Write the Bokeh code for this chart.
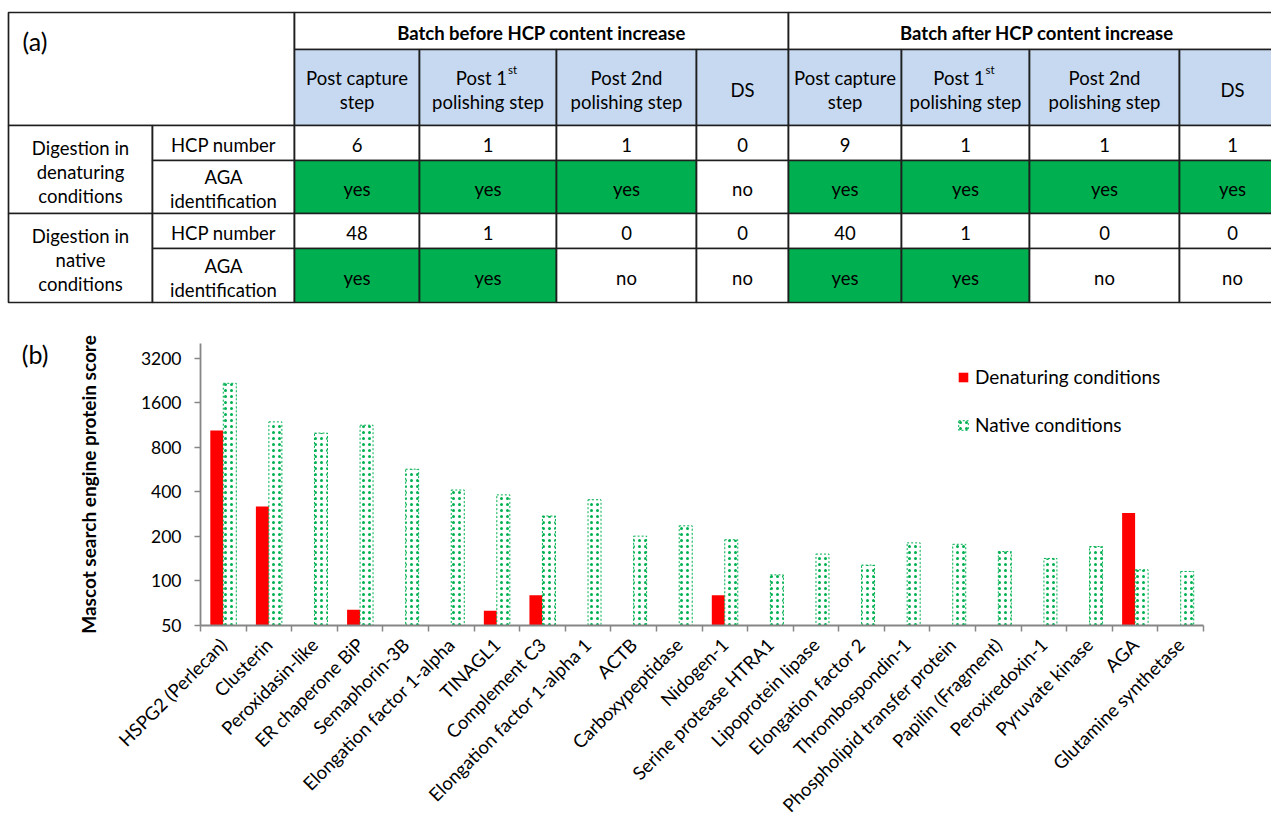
import math
import re

from bokeh.plotting import figure
from bokeh.models import (Range1d, FixedTicker, CustomJSTickFormatter, Legend,
                          LegendItem, LogAxis, ColumnDataSource)
from bokeh.core.properties import value
from bokeh.embed import file_html
from bokeh.resources import INLINE

# ---------------- (a) summary table ----------------
batch_titles = ["Batch before HCP content increase", "Batch after HCP content increase"]
step_titles = ["Post capture\nstep", "Post 1st\npolishing step", "Post 2nd\npolishing step", "DS"]
digestion_labels = ["Digestion in\ndenaturing\nconditions", "Digestion in\nnative\nconditions"]
row_labels = ["HCP number", "AGA\nidentification"]
hcp_denaturing = [6, 1, 1, 0, 9, 1, 1, 1]
aga_denaturing = ["yes", "yes", "yes", "no", "yes", "yes", "yes", "yes"]
hcp_native = [48, 1, 0, 0, 40, 1, 0, 0]
aga_native = ["yes", "yes", "no", "no", "yes", "yes", "no", "no"]

# ---------------- (b) Mascot scores ----------------
proteins = ["HSPG2 (Perlecan)", "Clusterin", "Peroxidasin-like", "ER chaperone BiP",
            "Semaphorin-3B", "Elongation factor 1-alpha", "TINAGL1", "Complement C3",
            "Elongation factor 1-alpha 1", "ACTB", "Carboxypeptidase", "Nidogen-1",
            "Serine protease HTRA1", "Lipoprotein lipase", "Elongation factor 2",
            "Thrombospondin-1", "Phospholipid transfer protein", "Papilin (Fragment)",
            "Peroxiredoxin-1", "Pyruvate kinase", "AGA", "Glutamine synthetase"]
denaturing_scores = [1040, 319, None, 64, None, None, 63, 80, None, None, None, 80,
                     None, None, None, None, None, None, None, None, 288, None]
native_scores = [2170, 1190, 1000, 1130, 570, 412, 382, 275, 354, 201, 236, 190,
                 110, 152, 128, 181, 177, 158, 142, 171, 119, 116]
y_ticks = [50, 100, 200, 400, 800, 1600, 3200]
series_names = ["Denaturing conditions", "Native conditions"]

# ---------------- styling ----------------
FONT = "Lato"
TEXT = "#000000"
GREEN = "#00B050"
RED = "#FF0000"
BLUE = "#C6D9F1"
GRID = "#1e1e1e"
AXIS = "#868686"

W, H_TABLE, H_CHART = 1271, 315, 512

# table geometry (page pixels)
COL = [8, 152, 294, 419, 556, 696, 788, 901, 1029, 1179, 1285]
ROW = [12, 49, 125, 160, 213, 248, 302]
LINE = 24
BASE = 2
CELL_FONT = "18.5px"

tab = figure(width=W, height=H_TABLE, x_range=Range1d(0, W), y_range=Range1d(H_TABLE, 0),
             output_backend="svg", toolbar_location=None, min_border=0,
             min_border_left=0, min_border_right=0, min_border_top=0, min_border_bottom=0,
             x_axis_location=None, y_axis_location=None, outline_line_color=None)
tab.xgrid.visible = False
tab.ygrid.visible = False

cells = dict(left=[], right=[], top=[], bottom=[], color=[])
normal = dict(x=[], y=[], text=[])
right_al = dict(x=[], y=[], text=[])
bold = dict(x=[], y=[], text=[])
sup = dict(x=[], y=[], text=[])


def cell(c0, c1, r0, r1, color="white"):
    cells["left"].append(COL[c0]); cells["right"].append(COL[c1])
    cells["top"].append(ROW[r0]); cells["bottom"].append(ROW[r1])
    cells["color"].append(color)


def add(target, x, y, t):
    target["x"].append(x); target["y"].append(y); target["text"].append(t)


def put(target, c0, c1, r0, r1, txt):
    cx = (COL[c0] + COL[c1]) / 2
    cy = (ROW[r0] + ROW[r1]) / 2
    lines = txt.split("\n")
    n = len(lines)
    for i, ln in enumerate(lines):
        y = cy + (i - (n - 1) / 2) * LINE + BASE
        m = re.match(r"^(.*\d)st$", ln)
        if m:
            # ordinal suffix raised as a superscript
            add(right_al, cx + 19, y, m.group(1))
            add(sup, cx + 20, y - 8, "st")
        else:
            add(target, cx, y, ln)


cell(0, 2, 0, 2)
cell(2, 6, 0, 1)
cell(6, 10, 0, 1)
put(bold, 2, 6, 0, 1, batch_titles[0])
put(bold, 6, 10, 0, 1, batch_titles[1])
for j in range(8):
    cell(2 + j, 3 + j, 1, 2, BLUE)
    put(normal, 2 + j, 3 + j, 1, 2, step_titles[j % 4])

cell(0, 1, 2, 4)
cell(0, 1, 4, 6)
put(normal, 0, 1, 2, 4, digestion_labels[0])
put(normal, 0, 1, 4, 6, digestion_labels[1])
for r in range(4):
    cell(1, 2, 2 + r, 3 + r)
    put(normal, 1, 2, 2 + r, 3 + r, row_labels[r % 2])

for r, vals in enumerate([hcp_denaturing, aga_denaturing, hcp_native, aga_native]):
    for j, v in enumerate(vals):
        cell(2 + j, 3 + j, 2 + r, 3 + r, GREEN if v == "yes" else "white")
        put(normal, 2 + j, 3 + j, 2 + r, 3 + r, str(v))

tab.quad(left="left", right="right", top="top", bottom="bottom", fill_color="color",
         line_color=GRID, line_width=1.7, source=ColumnDataSource(cells))

txt_common = dict(text_baseline="alphabetic", text_font=value(FONT), text_color=TEXT)
tab.text(x="x", y="y", text="text", source=ColumnDataSource(normal), text_align="center",
         text_font_size=value(CELL_FONT), **txt_common)
tab.text(x="x", y="y", text="text", source=ColumnDataSource(right_al), text_align="right",
         text_font_size=value(CELL_FONT), **txt_common)
tab.text(x="x", y="y", text="text", source=ColumnDataSource(sup), text_align="left",
         text_font_size=value("11.5px"), **txt_common)
tab.text(x="x", y="y", text="text", source=ColumnDataSource(bold), text_align="center",
         text_font_size=value("18.5px"), text_font_style="bold", **txt_common)
tab.text(x=[22], y=[40], text=["(a)"], text_align="left",
         text_font_size=value("25px"), **txt_common)

# ---------------- (b) bar chart ----------------
n = len(proteins)
bar_w = 0.285
FRAME_L, FRAME_R, FRAME_T, FRAME_B = 200, 1203, 28, 313
y_lo, y_hi = 50, 4032
chart = figure(width=W, height=H_CHART, x_range=Range1d(0, n), y_range=Range1d(y_lo, y_hi),
               y_axis_type="log", output_backend="svg", toolbar_location=None,
               min_border_left=FRAME_L, min_border_right=W - FRAME_R,
               min_border_top=FRAME_T, min_border_bottom=H_CHART - FRAME_B,
               outline_line_color=None)
chart.xgrid.visible = False
chart.ygrid.visible = False

centers = [i + 0.5 for i in range(n)]
den_x = [c - bar_w / 2 for c, v in zip(centers, denaturing_scores) if v is not None]
den_v = [v for v in denaturing_scores if v is not None]
nat_x = [c + bar_w / 2 for c in centers]

red_r = chart.vbar(x=den_x, top=den_v, bottom=y_lo, width=bar_w, fill_color=RED,
                   line_color=None)
# confetti-like texture: green dots over a white fill with a dashed green rim
green_r = chart.vbar(x=nat_x, top=native_scores, bottom=y_lo, width=bar_w, fill_color="white",
                     line_color=GREEN, line_dash="2 2", line_width=1,
                     hatch_pattern="dot", hatch_color=GREEN, hatch_scale=6, hatch_weight=10)

xa = chart.xaxis[0]
xa.ticker = FixedTicker(ticks=centers, minor_ticks=list(range(n + 1)))
xa.formatter = CustomJSTickFormatter(args=dict(names=proteins),
                                     code="return names[Math.floor(tick)];")
xa.major_tick_line_color = None
xa.minor_tick_line_color = AXIS
xa.minor_tick_line_width = 1.5
xa.minor_tick_out = 6
xa.minor_tick_in = 0
xa.axis_line_color = AXIS
xa.axis_line_width = 1.8
xa.major_label_orientation = math.pi / 4
xa.major_label_standoff = 10
xa.major_label_text_font = FONT
xa.major_label_text_font_size = "18.5px"
xa.major_label_text_color = TEXT

ya = chart.yaxis[0]
ya.ticker = FixedTicker(ticks=y_ticks, minor_ticks=[])
ya.formatter = CustomJSTickFormatter(code="return String(Math.round(tick));")
ya.axis_line_color = AXIS
ya.axis_line_width = 1.8
ya.major_tick_line_color = AXIS
ya.major_tick_line_width = 1.5
ya.major_tick_out = 6
ya.major_tick_in = 0
ya.minor_tick_line_color = None
ya.major_label_standoff = 13
ya.major_label_text_font = FONT
ya.major_label_text_font_size = "17.5px"
ya.major_label_text_color = TEXT
ya.axis_label = "Mascot search engine protein score"
ya.axis_label_text_font = FONT
ya.axis_label_text_font_style = "bold"
ya.axis_label_text_font_size = "19px"
ya.axis_label_text_color = TEXT
ya.axis_label_standoff = 38

# panel tag "(b)": an outer left axis with a single labelled position near the top
tag_value = 3400
tag_axis = LogAxis(ticker=FixedTicker(ticks=[tag_value], minor_ticks=[]),
                   formatter=CustomJSTickFormatter(code="return '(b)';"),
                   axis_line_color=None, major_tick_line_color=None,
                   minor_tick_line_color=None, major_tick_out=0, major_tick_in=0,
                   major_label_standoff=25, major_label_text_font=FONT,
                   major_label_text_font_size="25px", major_label_text_color=TEXT)
chart.add_layout(tag_axis, "left")

legend = Legend(items=[LegendItem(label=series_names[0], renderers=[red_r]),
                       LegendItem(label=series_names[1], renderers=[green_r])],
                location=(757, 189), glyph_width=12, glyph_height=12, label_standoff=6,
                spacing=25, padding=0, margin=0, border_line_color=None,
                background_fill_alpha=0, label_text_font=FONT,
                label_text_font_size="19px", label_text_color=TEXT)
chart.add_layout(legend)

open("out.html", "w").write(file_html([tab, chart], INLINE))
